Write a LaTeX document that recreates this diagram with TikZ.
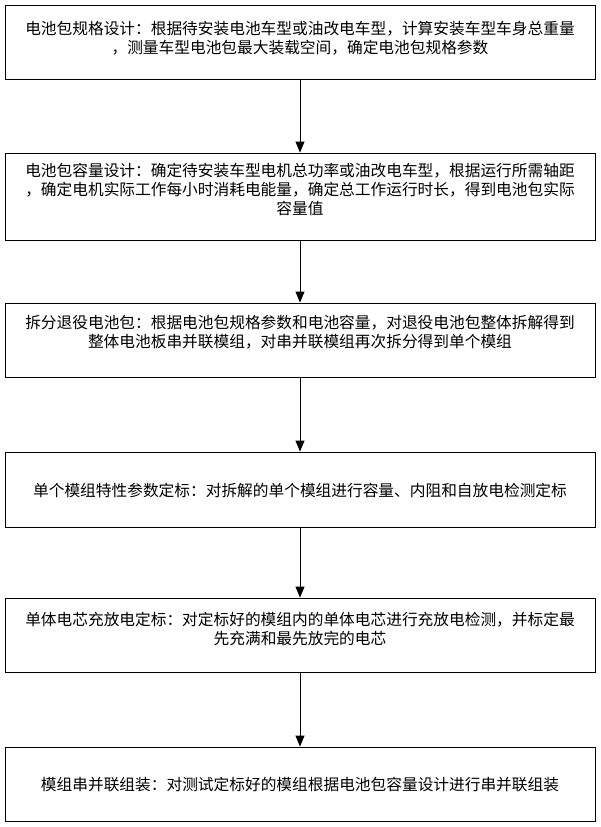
\documentclass[tikz,border=0pt]{standalone}
\usepackage{fontspec}
\setmainfont{Noto Sans CJK SC}
\usetikzlibrary{arrows.meta}
\begin{document}
\begin{tikzpicture}[x=1pt,y=1pt,
  box/.style={draw=black, line width=0.9pt, minimum width=590pt, inner sep=0pt},
  txt/.style={align=center, font=\fontsize{15.7}{19}\selectfont, inner sep=0pt},
  conn/.style={draw=black, line width=0.9pt, -{Triangle[length=11pt,width=9pt]}}]
\useasboundingbox (0,0) rectangle (600,-827);
\node[box, minimum height=74pt] (b1) at (300,-42) {};
\node[box, minimum height=87pt] (b2) at (300,-196.5) {};
\node[box, minimum height=74pt] (b3) at (300,-340) {};
\node[box, minimum height=75pt] (b4) at (300,-489.5) {};
\node[box, minimum height=74pt] (b5) at (300,-635) {};
\node[box, minimum height=74pt] (b6) at (300,-784) {};
\node[txt] (t1) at (300,-38.5) {电池包规格设计：根据待安装电池车型或油改电车型，计算安装车型车身总重量\\，测量车型电池包最大装载空间，确定电池包规格参数};
\node[txt] (t2) at (300,-189.5) {电池包容量设计：确定待安装车型电机总功率或油改电车型，根据运行所需轴距\\，确定电机实际工作每小时消耗电能量，确定总工作运行时长，得到电池包实际\\容量值};
\node[txt] (t3) at (300,-332.5) {拆分退役电池包：根据电池包规格参数和电池容量，对退役电池包整体拆解得到\\整体电池板串并联模组，对串并联模组再次拆分得到单个模组};
\node[txt] (t4) at (300,-490) {单个模组特性参数定标：对拆解的单个模组进行容量、内阻和自放电检测定标};
\node[txt] (t5) at (300,-629.5) {单体电芯充放电定标：对定标好的模组内的单体电芯进行充放电检测，并标定最\\先充满和最先放完的电芯};
\node[txt] (t6) at (300,-785) {模组串并联组装：对测试定标好的模组根据电池包容量设计进行串并联组装};
\draw[conn] (b1.south) -- (b2.north);
\draw[conn] (b2.south) -- (b3.north);
\draw[conn] (b3.south) -- (b4.north);
\draw[conn] (b4.south) -- (b5.north);
\draw[conn] (b5.south) -- (b6.north);
\end{tikzpicture}
\end{document}
